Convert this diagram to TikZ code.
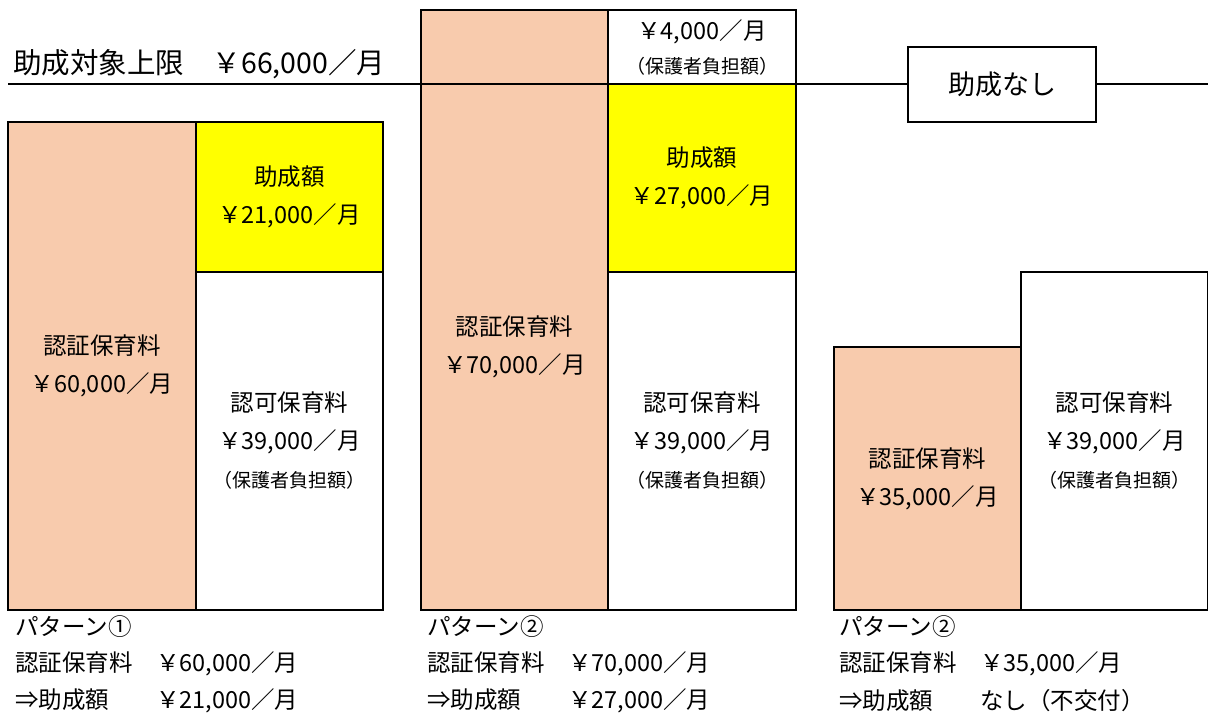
\documentclass[tikz,border=0pt]{standalone}
\usepackage{fontspec}
\setmainfont{Noto Sans CJK JP}
\definecolor{salmon}{HTML}{F8CBAD}
\definecolor{ylw}{HTML}{FFFF00}
\begin{document}
\begin{tikzpicture}[x=1pt,y=-1pt,
  box/.style={draw=black, line width=2pt, inner sep=0pt, align=center,
    font=\fontsize{23.5}{38}\selectfont},
  sbox/.style={box, fill=salmon, line width=1.5pt},
  ybox/.style={box, fill=ylw, line width=2.8pt},
  wbox/.style={box, fill=white},
  lbl/.style={inner sep=0pt, align=center, font=\fontsize{23.5}{38}\selectfont},
  txt/.style={inner sep=0pt, anchor=west, font=\fontsize{23.5}{28}\selectfont},
  small/.style={}
]
\useasboundingbox (0,0) rectangle (1208,715);
\newcommand{\smallnote}{{\fontsize{19}{38}\selectfont （保護者負担額）}}

% title
\node[txt, font=\fontsize{28.5}{34}\selectfont] (title) at (13,64) {助成対象上限　￥66,000／月};

% pattern 1
\node[sbox, minimum width=188pt, minimum height=488pt] (s1) at (102,366) {認証保育料\\￥60,000／月};
\node[wbox, minimum width=187pt, minimum height=338pt] (w1) at (289.5,441) {認可保育料\\￥39,000／月\\\smallnote};
\node[ybox, minimum width=187pt, minimum height=150pt] (y1) at (289.5,197) {助成額\\￥21,000／月};

% pattern 2
\node[sbox, minimum width=187pt, minimum height=74pt] (s2top) at (514.5,47) {};
\node[sbox, minimum width=187pt, minimum height=526pt] (s2) at (514.5,347) {認証保育料\\￥70,000／月};
\node[wbox, minimum width=188pt, minimum height=74pt] (t2) at (702,47) {￥4,000／月\\[-4pt]\smallnote};
\node[wbox, minimum width=188pt, minimum height=338pt] (w2) at (702,441) {認可保育料\\￥39,000／月\\\smallnote};
\node[ybox, minimum width=188pt, minimum height=188pt] (y2) at (702,178) {助成額\\￥27,000／月};

% pattern 3
\node[sbox, minimum width=187pt, minimum height=263pt] (s3) at (927.5,478.5) {認証保育料\\￥35,000／月};
\node[wbox, minimum width=187pt, minimum height=338pt] (w3) at (1114.5,441) {認可保育料\\￥39,000／月\\\smallnote};

% upper limit line
\coordinate (L) at (8,84);
\coordinate (R) at (1210,84);
\draw[line width=2pt] (L) -- (R);

\node[box, fill=white, line width=2.5pt, minimum width=188pt, minimum height=75pt,
  font=\fontsize{27}{32}\selectfont] (nashi) at (1002,84.5) {助成なし};

% bottom texts
\node[txt] (p1a) at (15,627) {パターン①};
\node[txt] (p1b) at (15,664) {認証保育料　￥60,000／月};
\node[txt] (p1c) at (15,701) {⇒助成額　　￥21,000／月};

\node[txt] (p2a) at (427,627) {パターン②};
\node[txt] (p2b) at (427,664) {認証保育料　￥70,000／月};
\node[txt] (p2c) at (427,701) {⇒助成額　　￥27,000／月};

\node[txt] (p3a) at (839,627) {パターン②};
\node[txt] (p3b) at (839,664) {認証保育料　￥35,000／月};
\node[txt] (p3c) at (839,701) {⇒助成額　　なし（不交付）};
\end{tikzpicture}
\end{document}
